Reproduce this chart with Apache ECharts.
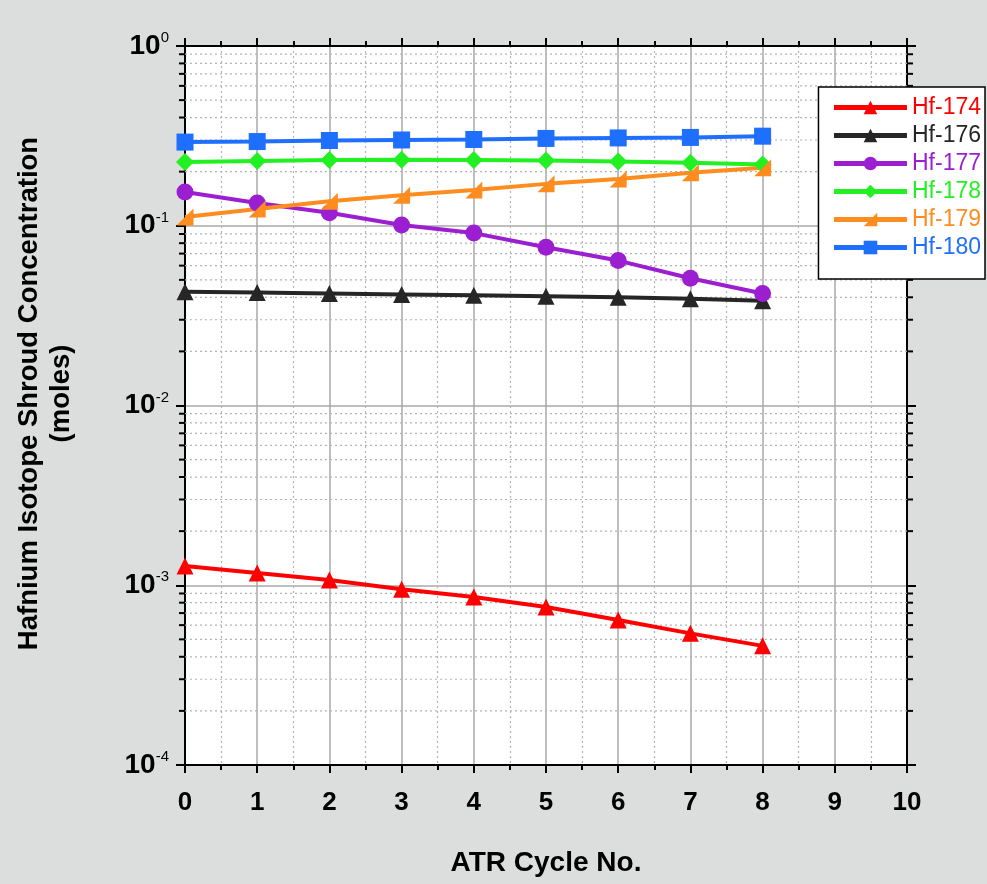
<!DOCTYPE html>
<html>
<head>
<meta charset="utf-8">
<script src="https://cdn.jsdelivr.net/npm/echarts@6/dist/echarts.min.js"></script>
<style>
html,body{margin:0;padding:0;background:#dcdedd;}
#chart{width:987px;height:884px;}
</style>
</head>
<body>
<div id="chart"></div>
<script>
const cycles = [0, 1, 2, 3, 4, 5, 6, 7, 8];
const hf174 = [0.00128, 0.00117, 0.00107, 0.00095, 0.00086, 0.000757, 0.00064, 0.00054, 0.00046];
const hf176 = [0.0430, 0.0425, 0.0420, 0.0415, 0.0410, 0.0405, 0.0400, 0.0392, 0.0382];
const hf177 = [0.154, 0.134, 0.118, 0.101, 0.091, 0.076, 0.064, 0.051, 0.042];
const hf178 = [0.226, 0.229, 0.232, 0.233, 0.232, 0.231, 0.228, 0.224, 0.219];
const hf179 = [0.112, 0.124, 0.137, 0.148, 0.158, 0.171, 0.182, 0.197, 0.210];
const hf180 = [0.292, 0.294, 0.298, 0.300, 0.302, 0.306, 0.308, 0.310, 0.315];
const seriesNames = ['Hf-174', 'Hf-176', 'Hf-177', 'Hf-178', 'Hf-179', 'Hf-180'];
const seriesColors = ['#ff0000', '#262626', '#9b1fd0', '#22f022', '#ff8c1e', '#1f6fff'];
const minorY = [];
[1e-4, 1e-3, 1e-2, 1e-1].forEach(function (d) {
  for (let k = 2; k <= 9; k++) minorY.push(+(d * k).toPrecision(3));
});

const seriesData = [hf174, hf176, hf177, hf178, hf179, hf180];
const symbols = ['triangle', 'triangle', 'circle', 'diamond', 'path://M0,10L10,0L10,10Z', 'rect'];
const symbolSizes = [17, 17, 17, 18, 17, 17];

const chart = echarts.init(document.getElementById('chart'));
const font = 'Arial, "Liberation Sans", sans-serif';

function yLabel(v) {
  const e = Math.round(Math.log10(v));
  return '{b|10}{s|' + e + '}';
}

const lineSeries = seriesNames.map(function (n, i) {
  return {
    name: n,
    type: 'line',
    xAxisIndex: 0,
    yAxisIndex: 0,
    data: cycles.map(function (c, j) { return [c, seriesData[i][j]]; }),
    symbol: symbols[i],
    symbolSize: symbolSizes[i],
    showAllSymbol: true,
    color: seriesColors[i],
    lineStyle: { width: 4, color: seriesColors[i] },
    itemStyle: { color: seriesColors[i] },
    z: 5,
    animation: false
  };
});

const minorSeries = {
  type: 'custom',
  xAxisIndex: 0,
  yAxisIndex: 0,
  data: minorY.map(function (v) { return [v]; }),
  silent: true,
  z: 1,
  animation: false,
  renderItem: function (params, api) {
    const v = api.value(0);
    const p0 = api.coord([0, v]);
    const p1 = api.coord([10, v]);
    return {
      type: 'group',
      children: [
        { type: 'line', shape: { x1: p0[0], y1: p0[1], x2: p1[0], y2: p1[1] },
          style: { stroke: '#b4b4b4', lineWidth: 1.2, lineDash: [2, 3] } },
        { type: 'line', shape: { x1: p0[0] - 6, y1: p0[1], x2: p0[0], y2: p0[1] },
          style: { stroke: '#000', lineWidth: 2 } },
        { type: 'line', shape: { x1: p1[0], y1: p1[1], x2: p1[0] + 6, y2: p1[1] },
          style: { stroke: '#000', lineWidth: 2 } }
      ]
    };
  }
};

const option = {
  backgroundColor: '#dcdedd',
  animation: false,
  grid: { left: 185, right: 80, top: 46, bottom: 119, show: true, backgroundColor: '#ffffff', borderWidth: 0, containLabel: false, outerBoundsMode: 'none' },
  legend: {
    orient: 'vertical',
    right: 2,
    top: 87,
    backgroundColor: '#ffffff',
    borderColor: '#000000',
    borderWidth: 1.5,
    padding: [9, 4, 20, 13],
    itemWidth: 73,
    itemHeight: 17,
    itemGap: 5,
    lineStyle: { width: 5 },
    textStyle: { fontFamily: font, fontSize: 23, padding: [0, 0, 0, 0] },
    data: seriesNames.map(function (n, i) { return { name: n, textStyle: { color: seriesColors[i] } }; })
  },
  xAxis: [
    {
      type: 'value', position: 'bottom', min: 0, max: 10, interval: 1,
      name: 'ATR Cycle No.', nameLocation: 'middle', nameGap: 84,
      nameTextStyle: { fontFamily: font, fontSize: 28, fontWeight: 'bold', color: '#000' },
      axisLine: { show: true, onZero: false, lineStyle: { color: '#000', width: 2 } },
      axisTick: { show: true, length: 8, lineStyle: { color: '#000', width: 2 } },
      minorTick: { show: true, splitNumber: 2, length: 5, lineStyle: { color: '#000', width: 2 } },
      axisLabel: { fontFamily: font, fontSize: 26, fontWeight: 'bold', color: '#000', margin: 25 },
      splitLine: { show: true, lineStyle: { color: '#a8a8a8', width: 1.5 } },
      minorSplitLine: { show: true, lineStyle: { color: '#b4b4b4', width: 1.2, type: [2, 3] } }
    },
    {
      type: 'value', position: 'top', min: 0, max: 10, interval: 1,
      axisLine: { show: true, onZero: false, lineStyle: { color: '#000', width: 2 } },
      axisTick: { show: true, length: 8, lineStyle: { color: '#000', width: 2 } },
      minorTick: { show: true, splitNumber: 2, length: 5, lineStyle: { color: '#000', width: 2 } },
      axisLabel: { show: false },
      splitLine: { show: false }
    }
  ],
  yAxis: [
    {
      type: 'log', logBase: 10, min: 1e-4, max: 1, position: 'left',
      name: 'Hafnium Isotope Shroud Concentration\n(moles)',
      nameLocation: 'middle', nameGap: 108, nameRotate: 90,
      nameTextStyle: {
        fontFamily: font, fontSize: 27.5, fontWeight: 'bold', color: '#000', lineHeight: 32, align: 'center',
        padding: [0, 0, 0, 24]
      },
      axisLine: { show: true, onZero: false, lineStyle: { color: '#000', width: 2 } },
      axisTick: { show: true, length: 9, lineStyle: { color: '#000', width: 2 } },
      axisLabel: {
        formatter: yLabel, margin: 16,
        rich: {
          b: { fontFamily: font, fontSize: 28, fontWeight: 'bold', color: '#000' },
          s: { fontFamily: font, fontSize: 15, color: '#000', padding: [0, 0, 16, 0] }
        }
      },
      splitLine: { show: true, lineStyle: { color: '#a8a8a8', width: 1.5 } }
    },
    {
      type: 'log', logBase: 10, min: 1e-4, max: 1, position: 'right',
      axisLine: { show: true, onZero: false, lineStyle: { color: '#000', width: 2 } },
      axisTick: { show: true, length: 9, lineStyle: { color: '#000', width: 2 } },
      axisLabel: { show: false },
      splitLine: { show: false }
    }
  ],
  series: [minorSeries].concat(lineSeries)
};
chart.setOption(option);
</script>
</body>
</html>
